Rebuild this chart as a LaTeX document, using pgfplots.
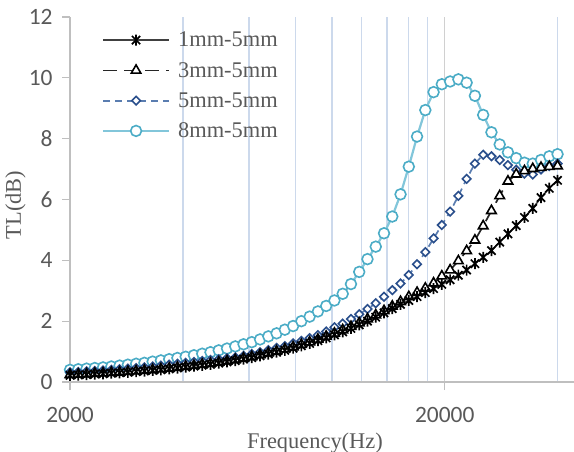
\documentclass[border=0pt]{standalone}
\usepackage{fontspec}
\setmainfont{Liberation Serif}
\newfontfamily\calfont{Carlito}
\usepackage{pgfplots}
\usepackage{pgfplotstable}
\pgfplotsset{compat=1.18}
\definecolor{txt}{HTML}{595959}
\definecolor{axgray}{HTML}{BFBFBF}
\definecolor{gridblue}{HTML}{CCD9EC}
\definecolor{majgray}{HTML}{D0D0D0}
\definecolor{cA}{HTML}{404040}
\definecolor{cB}{HTML}{262626}
\definecolor{cCline}{HTML}{5A7DB0}
\definecolor{cCmark}{HTML}{2A4F8C}
\definecolor{cDline}{HTML}{82C6DA}
\definecolor{cDmark}{HTML}{4BACC6}

\pgfdeclareplotmark{xstar}{%
  \pgfpathmoveto{\pgfqpoint{0pt}{\pgfplotmarksize}}%
  \pgfpathlineto{\pgfqpoint{0pt}{-\pgfplotmarksize}}%
  \pgfpathmoveto{\pgfqpoint{.75\pgfplotmarksize}{.75\pgfplotmarksize}}%
  \pgfpathlineto{\pgfqpoint{-.75\pgfplotmarksize}{-.75\pgfplotmarksize}}%
  \pgfpathmoveto{\pgfqpoint{-.75\pgfplotmarksize}{.75\pgfplotmarksize}}%
  \pgfpathlineto{\pgfqpoint{.75\pgfplotmarksize}{-.75\pgfplotmarksize}}%
  \pgfusepathqstroke}

\pgfplotstableread{
f a b c d
2000 0.22 0.24 0.32 0.40
2104 0.23 0.25 0.33 0.42
2214 0.24 0.26 0.35 0.44
2329 0.26 0.28 0.36 0.46
2450 0.27 0.29 0.38 0.48
2578 0.29 0.31 0.40 0.51
2712 0.30 0.32 0.42 0.54
2854 0.32 0.34 0.44 0.57
3002 0.34 0.36 0.46 0.60
3159 0.36 0.38 0.48 0.63
3323 0.38 0.40 0.51 0.67
3496 0.40 0.43 0.54 0.71
3678 0.43 0.45 0.57 0.75
3870 0.46 0.48 0.60 0.79
4071 0.49 0.51 0.63 0.83
4283 0.52 0.54 0.66 0.88
4506 0.55 0.58 0.69 0.93
4741 0.58 0.61 0.72 0.98
4988 0.62 0.65 0.75 1.04
5248 0.66 0.69 0.78 1.10
5521 0.70 0.73 0.81 1.17
5809 0.75 0.78 0.86 1.24
6111 0.80 0.83 0.92 1.31
6430 0.86 0.89 0.98 1.40
6765 0.92 0.95 1.05 1.50
7117 0.98 1.01 1.12 1.60
7488 1.04 1.08 1.18 1.72
7878 1.11 1.15 1.27 1.84
8288 1.19 1.23 1.35 2.00
8720 1.27 1.31 1.44 2.15
9174 1.36 1.40 1.54 2.32
9652 1.45 1.50 1.66 2.50
10154 1.55 1.60 1.80 2.68
10683 1.65 1.71 1.92 2.90
11240 1.76 1.82 2.07 3.22
11825 1.88 1.94 2.23 3.62
12441 2.00 2.07 2.40 4.04
13089 2.13 2.20 2.59 4.45
13771 2.27 2.34 2.80 4.89
14488 2.41 2.49 3.02 5.44
15243 2.55 2.64 3.24 6.17
16037 2.68 2.80 3.52 7.08
16872 2.81 2.94 3.87 8.07
17751 2.94 3.08 4.27 8.94
18675 3.07 3.25 4.72 9.53
19648 3.21 3.48 5.16 9.79
20671 3.36 3.68 5.60 9.88
21748 3.51 3.98 6.12 9.95
22881 3.68 4.31 6.68 9.84
24073 3.89 4.66 7.18 9.41
25326 4.10 5.13 7.47 8.78
26646 4.32 5.63 7.42 8.21
28034 4.60 6.12 7.30 7.81
29494 4.87 6.60 7.13 7.55
31030 5.14 6.83 6.98 7.36
32646 5.41 6.94 6.85 7.21
34346 5.71 7.01 6.82 7.18
36135 6.06 7.05 6.99 7.30
38018 6.37 7.08 7.10 7.42
40000 6.63 7.10 7.18 7.49
}\data

\begin{document}
\begin{tikzpicture}
\path[use as bounding box] (-70bp,-70bp) rectangle (504bp,382bp);
\begin{axis}[
  at={(0,0)}, anchor=south west,
  scale only axis, width=504bp, height=365bp,
  xmode=log, xmin=2000, xmax=44260, ymin=0, ymax=12,
  axis x line=bottom, axis y line=left,
  axis line style={-, axgray, line width=1.3bp},
  xtick={2000,20000}, xticklabels={2000,20000},
  minor xtick={4000,6000,8000,10000,12000,14000,16000,18000,40000},
  ytick={0,2,4,6,8,10,12}, yticklabels={0,2,4,6,8,10,12},
  tick align=outside, major tick length=8bp, minor tick length=0pt,
  tick style={axgray, line width=1.3bp},
  xminorgrids, xmajorgrids,
  minor grid style={gridblue, line width=1.6bp},
  major grid style={majgray, line width=1.3bp},
  ticklabel style={font=\calfont\fontsize{23.5}{27}\selectfont, text=txt},
  yticklabel style={xshift=-6bp},
  xticklabel style={yshift=-14bp},
  xlabel={Frequency(Hz)}, ylabel={TL(dB)},
  label style={font=\fontsize{22.5}{27}\selectfont, text=txt},
  xlabel style={at={(axis description cs:0.486,-0.168)}, anchor=center},
  ylabel style={at={(axis description cs:-0.108,0.485)}, anchor=center},
  legend style={at={(axis description cs:0.063,0.965)}, anchor=north west, draw=none, fill=none,
    font=\fontsize{22.5}{27}\selectfont, text=txt, row sep=10bp, inner sep=0pt,
    /tikz/every odd column/.append style={column sep=6bp}},
  legend cell align=left,
  reverse legend,
  legend image code/.code={\draw[mark repeat=2,mark phase=2,#1] plot coordinates {(0bp,0bp) (33bp,0bp) (66bp,0bp)};},
]
\addplot[cDline, line width=2.2bp, mark=*, mark size=5.4bp, mark options={solid, draw=cDmark, fill=white, line width=1.6bp}] table[x=f,y=d]{\data};
\addlegendentry{8mm-5mm}
\addplot[cCline, line width=1.7bp, dash pattern=on 7bp off 5bp, mark=square*, mark size=3bp, mark options={solid, rotate=45, draw=cCmark, fill=white, line width=1.6bp}] table[x=f,y=c]{\data};
\addlegendentry{5mm-5mm}
\addplot[cB, line width=1.7bp, dash pattern=on 14bp off 7bp, mark=triangle*, mark size=5.5bp, mark options={solid, draw=black, fill=white, line width=1.6bp}] table[x=f,y=b]{\data};
\addlegendentry{3mm-5mm}
\addplot[cA, line width=1.5bp, mark=xstar, mark size=5.5bp, mark options={solid, black, line width=1.7bp}] table[x=f,y=a]{\data};
\addlegendentry{1mm-5mm}
\end{axis}
\end{tikzpicture}
\end{document}
